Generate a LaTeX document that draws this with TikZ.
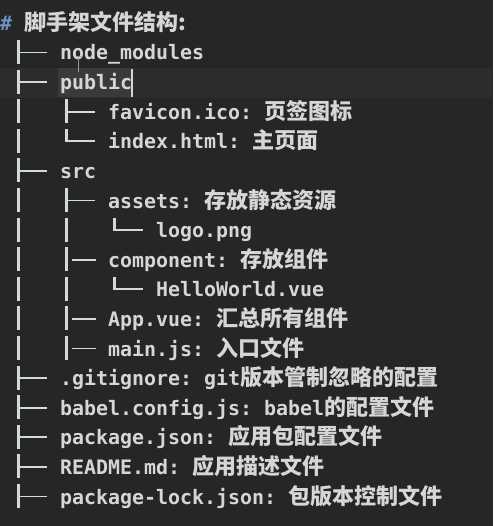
\documentclass[tikz,border=0pt]{standalone}
\usepackage{fontspec}
\setmonofont{DejaVu Sans Mono}
\newfontfamily\zhfont{Noto Sans CJK SC}[Scale=1.105]
\newcommand\zh[1]{{\zhfont\bfseries #1}}
\newcommand\sk{\phantom{x}}
\definecolor{bg}{HTML}{262626}
\definecolor{band}{HTML}{2C2C2C}
\definecolor{sel}{HTML}{3A3A3A}
\definecolor{txt}{HTML}{D6D6D6}
\definecolor{tree}{HTML}{D0DCD4}
\definecolor{hash}{HTML}{6F93C4}
\tikzset{
  row/.style={anchor=base west, inner sep=0pt, text=txt,
    font=\ttfamily\bfseries\fontsize{19.93}{24}\selectfont},
  vl/.style={draw=tree, line width=3pt},
  hl/.style={draw=tree, line width=1.9pt},
}
\newcommand\rowy[1]{\fpeval{60+29.6*(#1)}}
% vertical bar of a row at column x
\newcommand\vb[2]{\path[vl] (#1,{\rowy{#2}-20}) -- (#1,{\rowy{#2}+4});}
% tee: vertical + horizontal from center
\newcommand\tee[2]{\vb{#1}{#2}\path[hl] (#1,{\rowy{#2}-7.5}) -- ({#1+29},{\rowy{#2}-7.5});}
% corner
\newcommand\crn[2]{\path[vl] (#1,{\rowy{#2}-20}) -- (#1,{\rowy{#2}-7.5});\path[hl] ({#1-1.5},{\rowy{#2}-7.5}) -- ({#1+29},{\rowy{#2}-7.5});}
% bar followed by dash
\newcommand\bd[2]{\vb{#1}{#2}\path[hl] ({#1+6},{\rowy{#2}-7.5}) -- ({#1+30},{\rowy{#2}-7.5});}
\begin{document}
\begin{tikzpicture}[x=1pt,y=-1pt]
\useasboundingbox (0,0) rectangle (493,526);
\fill[bg] (0,0) rectangle (493,526);
\fill[band] (0,68) rectangle (493,98);
\fill[sel] (58,68) rectangle (131,97);
% title
\node[row] (title) at (0,31) {{\color{hash}\#}\sk\zh{脚手架文件结构:}};
% tree lines
\tee{18}{0}
\tee{18}{1}
\vb{18}{2}\tee{66}{2}
\vb{18}{3}\crn{66}{3}
\tee{18}{4}
\vb{18}{5}\tee{66}{5}
\vb{18}{6}\vb{66}{6}\crn{114}{6}
\vb{18}{7}\bd{66}{7}
\vb{18}{8}\vb{66}{8}\crn{114}{8}
\vb{18}{9}\bd{66}{9}
\vb{18}{10}\bd{66}{10}
\tee{18}{11}
\tee{18}{12}
\tee{18}{13}
\tee{18}{14}
\tee{18}{15}
% entries
\node[row] (r0) at (60,{\rowy{0}}) {node\_modules};
\node[row] (r1) at (60,{\rowy{1}}) {public};
\node[row] (r2) at (108,{\rowy{2}}) {favicon.ico: \zh{页签图标}};
\node[row] (r3) at (108,{\rowy{3}}) {index.html: \zh{主页面}};
\node[row] (r4) at (60,{\rowy{4}}) {src};
\node[row] (r5) at (108,{\rowy{5}}) {assets: \zh{存放静态资源}};
\node[row] (r6) at (156,{\rowy{6}}) {logo.png};
\node[row] (r7) at (108,{\rowy{7}}) {component: \zh{存放组件}};
\node[row] (r8) at (156,{\rowy{8}}) {HelloWorld.vue};
\node[row] (r9) at (108,{\rowy{9}}) {App.vue: \zh{汇总所有组件}};
\node[row] (r10) at (108,{\rowy{10}}) {main.js: \zh{入口文件}};
\node[row] (r11) at (60,{\rowy{11}}) {.gitignore: git\zh{版本管制忽略的配置}};
\node[row] (r12) at (60,{\rowy{12}}) {babel.config.js: babel\zh{的配置文件}};
\node[row] (r13) at (60,{\rowy{13}}) {package.json: \zh{应用包配置文件}};
\node[row] (r14) at (60,{\rowy{14}}) {README.md: \zh{应用描述文件}};
\node[row] (r15) at (60,{\rowy{15}}) {package-lock.json: \zh{包版本控制文件}};
% text cursor and mouse pointer
\coordinate (c1) at (132,69);
\coordinate (c2) at (132,97);
\draw[txt, line width=1.2pt] (c1) -- (c2);
\coordinate (m1) at (78,56);
\coordinate (m2) at (78,72);
\coordinate (m3) at (75.5,56);
\coordinate (m4) at (80.5,56);
\draw[gray!80, line width=0.8pt] (m1) -- (m2) (m3) -- (m4);
\end{tikzpicture}
\end{document}
